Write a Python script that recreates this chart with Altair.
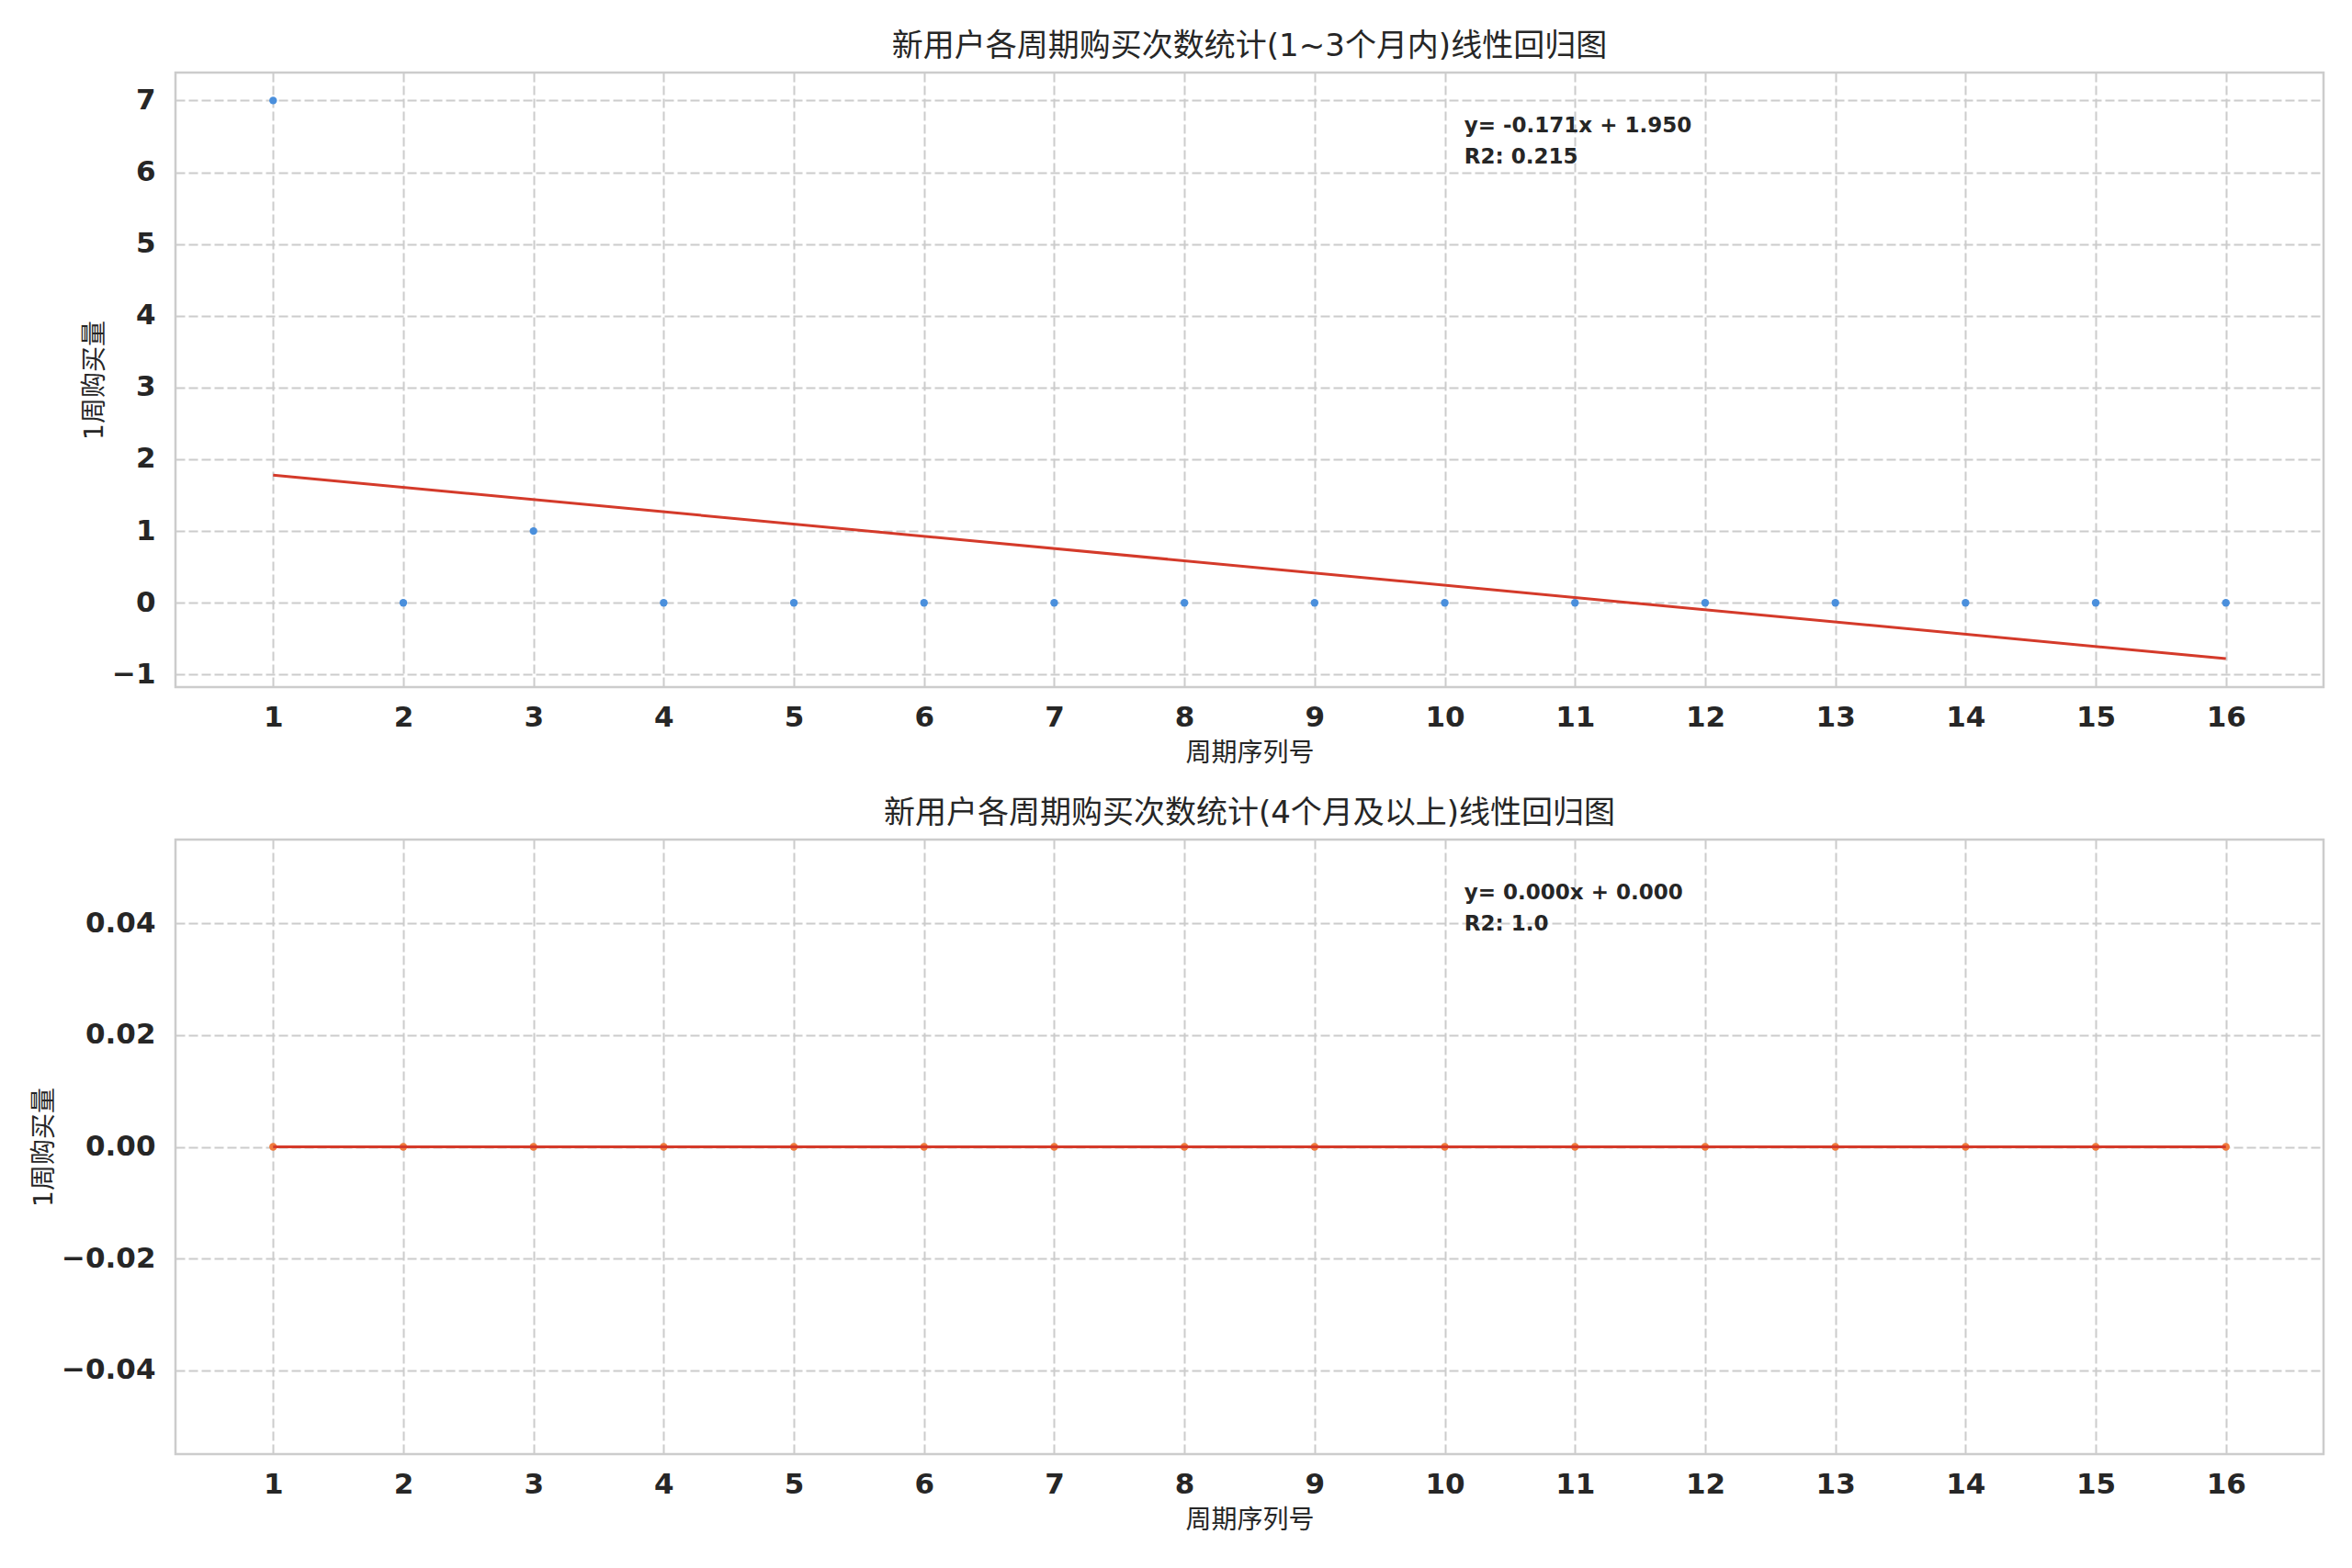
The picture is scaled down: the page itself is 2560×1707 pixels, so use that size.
import altair as alt
import pandas as pd

# ---- data ----
periods = list(range(1, 17))
counts_short = [7, 0, 1, 0, 0, 0, 0, 0, 0, 0, 0, 0, 0, 0, 0, 0]
counts_long = [0] * 16
x_ticks = list(range(1, 17))
y_ticks_top = [-1, 0, 1, 2, 3, 4, 5, 6, 7]
y_ticks_bottom = [-0.04, -0.02, 0.0, 0.02, 0.04]
titles = ["新用户各周期购买次数统计(1~3个月内)线性回归图",
          "新用户各周期购买次数统计(4个月及以上)线性回归图"]
x_title = "周期序列号"
y_title = "1周购买量"
notes_top = ["y= -0.171x + 1.950", "R2: 0.215"]
notes_bottom = ["y= 0.000x + 0.000", "R2: 1.0"]

W, H = 2338, 669
FONT = "DejaVu Sans, Noto Sans CJK SC"
DARK = "#262626"


def panel(values, title, notes, y_domain, y_ticks, y_fmt, pt_color, line_color):
    df = pd.DataFrame({"x": periods, "y": values})
    base = alt.Chart(df)
    xenc = alt.X("x:Q", title=x_title,
                 scale=alt.Scale(domain=[0.25, 16.75], nice=False, zero=False),
                 axis=alt.Axis(values=x_ticks, format="d"))
    yenc = alt.Y("y:Q", title=y_title,
                 scale=alt.Scale(domain=y_domain, nice=False, zero=False),
                 axis=alt.Axis(values=y_ticks, format=y_fmt))
    pts = base.mark_circle(size=70, color=pt_color, opacity=1).encode(x=xenc, y=yenc)
    line = base.transform_regression("x", "y", extent=[1, 16]).mark_line(
        color=line_color, strokeWidth=3).encode(x="x:Q", y="y:Q")
    note = alt.Chart(pd.DataFrame({"t": ["\n".join(notes)]})).mark_text(
        align="left", baseline="top", font="DejaVu Sans", fontWeight="bold",
        fontSize=23, lineHeight=34, color=DARK, lineBreak="\n").encode(
        text="t:N", x=alt.value(0.6 * W), y=alt.value(47))
    return alt.layer(pts, line, note).properties(
        width=W, height=H, title=alt.TitleParams(title, anchor="middle"))


top = panel(counts_short, titles[0], notes_top, [-1.175, 7.389], y_ticks_top, "d",
            "#4a8fdc", "#d43a2a")
bottom = panel(counts_long, titles[1], notes_bottom, [-0.055, 0.055], y_ticks_bottom, ".2f",
               "#ef7a3c", "#d43a2a")

chart = alt.vconcat(top, bottom, spacing=31).properties(
    padding={"left": 25, "top": 24, "right": 5, "bottom": 5}
).configure_view(
    stroke="#cccccc", strokeWidth=2.5
).configure_axis(
    domain=False, ticks=False, grid=True, gridColor="#cccccc", gridDash=[10, 4],
    gridWidth=2, labelFont="DejaVu Sans", labelFontWeight="bold", labelFontSize=31,
    labelColor=DARK, labelPadding=22, titleFont=FONT, titleFontSize=28,
    titleFontWeight="normal", titleColor=DARK, titlePadding=4
).configure_axisX(titlePadding=10, labelPadding=18).configure_title(
    font=FONT, fontSize=34, fontWeight="normal", color=DARK, offset=11
)

chart.save("out.html", embed_options={"renderer": "svg", "actions": False})
